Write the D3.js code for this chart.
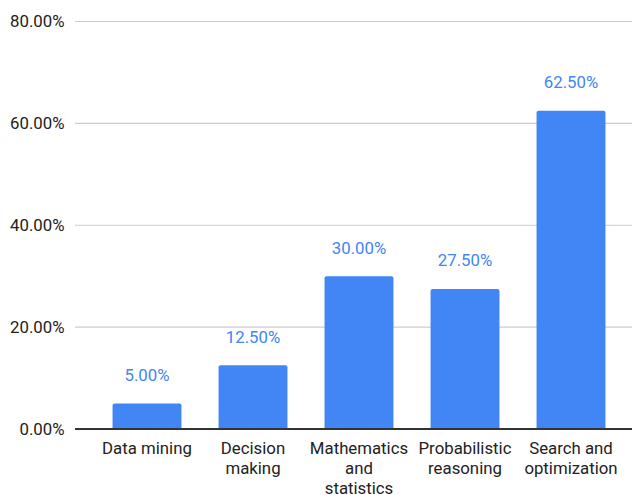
<!DOCTYPE html>
<html>
<head>
<meta charset="utf-8">
<script src="https://cdn.jsdelivr.net/npm/d3@7"></script>
<style>
  html, body { margin: 0; padding: 0; background: #fff; }
  svg { display: block; font-family: Roboto, "Noto Sans", sans-serif; }
</style>
</head>
<body>
<svg id="chart" width="632" height="495"></svg>
<script>
// Share of topics, in percent
const categories = [
  ["Data mining"],
  ["Decision", "making"],
  ["Mathematics", "and", "statistics"],
  ["Probabilistic", "reasoning"],
  ["Search and", "optimization"]
];
const values = [5.0, 12.5, 30.0, 27.5, 62.5];
const yTicks = [0, 20, 40, 60, 80];

const svg = d3.select("#chart");
const gridLeft = 75, gridRight = 632;
const plotTop = 21.5, baseline = 429;
const fontSize = 16.8;

const x = d3.scaleBand()
  .domain(d3.range(values.length))
  .range([94, 624])
  .paddingInner(0.35)
  .paddingOuter(0.175);

const y = d3.scaleLinear().domain([0, 80]).range([baseline, plotTop]);

// horizontal gridlines
svg.append("g")
  .selectAll("line")
  .data(yTicks.filter(t => t > 0))
  .join("line")
  .attr("x1", gridLeft).attr("x2", gridRight)
  .attr("y1", d => y(d)).attr("y2", d => y(d))
  .attr("stroke", "#cccccc").attr("stroke-width", 1.2);

// y axis labels
svg.append("g")
  .selectAll("text")
  .data(yTicks)
  .join("text")
  .attr("x", 64.5).attr("y", d => y(d))
  .attr("dy", "0.35em")
  .attr("text-anchor", "end")
  .attr("font-size", fontSize)
  .attr("fill", "#222")
  .text(d => d.toFixed(2) + "%");

// bars with slightly rounded tops
const r = 2;
svg.append("g")
  .selectAll("path")
  .data(values)
  .join("path")
  .attr("fill", "#4285f4")
  .attr("d", (d, i) => {
    const x0 = x(i), x1 = x(i) + x.bandwidth();
    const yt = y(d), yb = y(0);
    return `M${x0},${yb} L${x0},${yt + r} Q${x0},${yt} ${x0 + r},${yt} L${x1 - r},${yt} Q${x1},${yt} ${x1},${yt + r} L${x1},${yb} Z`;
  });

// value labels
svg.append("g")
  .selectAll("text")
  .data(values)
  .join("text")
  .attr("x", (d, i) => x(i) + x.bandwidth() / 2)
  .attr("y", d => y(d) - 22.5)
  .attr("text-anchor", "middle")
  .attr("font-size", fontSize)
  .attr("fill", "#4285f4")
  .text(d => d.toFixed(2) + "%");

// baseline
svg.append("line")
  .attr("x1", gridLeft).attr("x2", gridRight)
  .attr("y1", y(0)).attr("y2", y(0))
  .attr("stroke", "#333").attr("stroke-width", 2);

// category labels
const cat = svg.append("g")
  .selectAll("text")
  .data(categories)
  .join("text")
  .attr("x", (d, i) => x(i) + x.bandwidth() / 2)
  .attr("y", 453.5)
  .attr("text-anchor", "middle")
  .attr("font-size", fontSize)
  .attr("fill", "#222");
cat.selectAll("tspan")
  .data(d => d)
  .join("tspan")
  .attr("x", function () { return d3.select(this.parentNode).attr("x"); })
  .attr("dy", (d, j) => j === 0 ? 0 : 20.3)
  .text(d => d);
</script>
</body>
</html>
